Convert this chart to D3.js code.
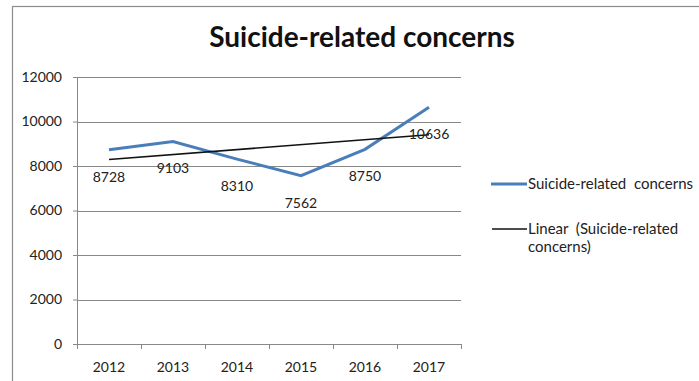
<!DOCTYPE html>
<html>
<head>
<meta charset="utf-8">
<script src="https://cdn.jsdelivr.net/npm/d3@7"></script>
<style>
  body { margin: 0; background: #fff; }
  svg { display: block; font-family: Lato, "Open Sans", sans-serif; }
</style>
</head>
<body>
<div id="chart"></div>
<script>
// data
const years = ["2012", "2013", "2014", "2015", "2016", "2017"];
const concerns = [8728, 9103, 8310, 7562, 8750, 10636];
const yTicks = [0, 2000, 4000, 6000, 8000, 10000, 12000];
const seriesName = "Suicide-related  concerns";
const trendLabel = ["Linear  (Suicide-related", "concerns)"];

const width = 699, height = 381;
const plotLeft = 77, plotRight = 461, plotTop = 77, plotBottom = 344;

const svg = d3.select("#chart").append("svg")
    .attr("width", width)
    .attr("height", height);

// outer frame (only top and left visible)
svg.append("rect")
    .attr("x", 12.5).attr("y", 6.5)
    .attr("width", 760).attr("height", 420)
    .attr("fill", "none")
    .attr("stroke", "#8c8c8c")
    .attr("stroke-width", 1.2);

svg.append("text")
    .attr("x", 362).attr("y", 47)
    .attr("text-anchor", "middle")
    .style("font-size", "28px")
    .style("font-weight", "bold")
    .style("fill", "#111")
    .text("Suicide-related concerns");

const x = d3.scaleBand().domain(years).range([plotLeft, plotRight]).padding(0);
const y = d3.scaleLinear().domain([0, 12000]).range([plotBottom, plotTop]);

// gridlines + y ticks
const yAxis = svg.append("g")
    .attr("transform", `translate(${plotLeft},0)`)
    .call(d3.axisLeft(y).tickValues(yTicks).tickSize(4).tickFormat(d3.format("d")));
yAxis.select(".domain").attr("stroke", "#888");
yAxis.selectAll(".tick line").attr("stroke", "#888");
yAxis.selectAll(".tick text")
    .attr("x", -15)
    .style("font-size", "14px")
    .style("font-family", "Lato, sans-serif")
    .attr("fill", "#222");

svg.append("g").selectAll("line")
    .data(yTicks.filter(d => d > 0))
    .join("line")
    .attr("x1", plotLeft).attr("x2", plotRight)
    .attr("y1", d => Math.round(y(d)) + 0.5).attr("y2", d => Math.round(y(d)) + 0.5)
    .attr("stroke", "#888");

// x axis with ticks at category boundaries
svg.append("line")
    .attr("x1", plotLeft).attr("x2", plotRight)
    .attr("y1", plotBottom + 0.5).attr("y2", plotBottom + 0.5)
    .attr("stroke", "#888");
svg.append("g").selectAll("line")
    .data(years.map(d => x(d)).concat([plotRight]))
    .join("line")
    .attr("x1", d => d + 0.5).attr("x2", d => d + 0.5)
    .attr("y1", plotBottom).attr("y2", plotBottom + 5)
    .attr("stroke", "#888");
svg.append("g").selectAll("text")
    .data(years)
    .join("text")
    .attr("x", d => x(d) + x.bandwidth() / 2)
    .attr("y", 372)
    .attr("text-anchor", "middle")
    .style("font-size", "14px")
    .attr("fill", "#222")
    .text(d => d);

const pts = years.map((yr, i) => ({ year: yr, value: concerns[i] }));
const cx = d => x(d.year) + x.bandwidth() / 2;

// linear trendline (least squares over category index)
const n = concerns.length;
const mx = d3.mean(d3.range(1, n + 1)), my = d3.mean(concerns);
const slope = d3.sum(concerns, (v, i) => (i + 1 - mx) * (v - my)) / d3.sum(d3.range(1, n + 1), k => (k - mx) ** 2);
const trend = pts.map((d, i) => ({ year: d.year, value: my + slope * (i + 1 - mx) }));

const line = d3.line().x(cx).y(d => y(d.value));

svg.append("path")
    .datum(pts)
    .attr("fill", "none")
    .attr("stroke", "#4a7ebb")
    .attr("stroke-width", 3)
    .attr("d", line);

svg.append("path")
    .datum([trend[0], trend[n - 1]])
    .attr("fill", "none")
    .attr("stroke", "#111")
    .attr("stroke-width", 1.5)
    .attr("d", line);

// data labels below points
svg.append("g").selectAll("text")
    .data(pts)
    .join("text")
    .attr("x", cx)
    .attr("y", d => y(d.value) + 32)
    .attr("text-anchor", "middle")
    .style("font-size", "14px")
    .attr("fill", "#222")
    .text(d => d.value);

// legend
const legend = svg.append("g");
legend.append("line")
    .attr("x1", 491).attr("x2", 527).attr("y1", 184).attr("y2", 184)
    .attr("stroke", "#4a7ebb").attr("stroke-width", 3);
legend.append("text")
    .attr("x", 528).attr("y", 189)
    .style("font-size", "15px").attr("fill", "#222")
    .style("white-space", "pre")
    .text(seriesName);
legend.append("line")
    .attr("x1", 492).attr("x2", 527).attr("y1", 229).attr("y2", 229)
    .attr("stroke", "#111").attr("stroke-width", 1.5);
legend.append("text")
    .attr("x", 528).attr("y", 234)
    .style("font-size", "15px").attr("fill", "#222")
    .style("white-space", "pre")
    .selectAll("tspan")
    .data(trendLabel)
    .join("tspan")
    .attr("x", 528)
    .attr("dy", (d, i) => i === 0 ? 0 : 18)
    .text(d => d);
</script>
</body>
</html>
